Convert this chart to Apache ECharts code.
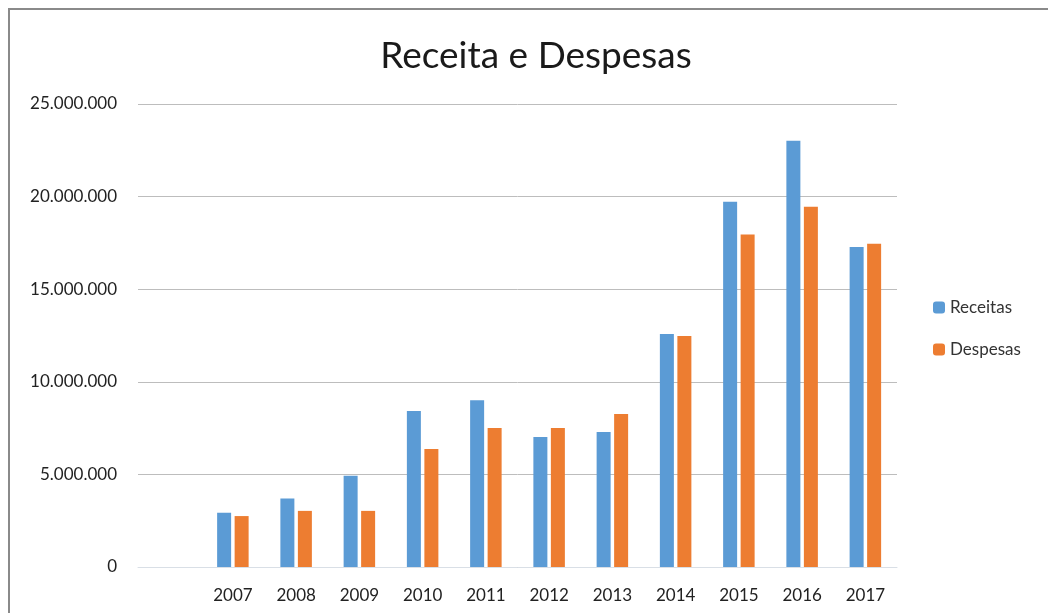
<!DOCTYPE html>
<html>
<head>
<meta charset="utf-8">
<script src="https://cdn.jsdelivr.net/npm/echarts@6/dist/echarts.min.js"></script>
<style>
  html, body { margin: 0; padding: 0; background: #fff; }
  #frame {
    position: absolute; left: 8px; top: 8px; width: 1040px; height: 605px;
    border-top: 2px solid #8a8a8a; border-left: 2px solid #8a8a8a; box-sizing: border-box;
  }
  #chart { position: absolute; left: 0; top: 0; width: 1048px; height: 613px; }
</style>
</head>
<body>
<div id="frame"></div>
<div id="chart"></div>
<script>
// first category is left empty, as in the original sheet
const years = ['', '2007', '2008', '2009', '2010', '2011', '2012', '2013', '2014', '2015', '2016', '2017'];
const receitas = [null, 2930000, 3700000, 4930000, 8420000, 9000000, 7020000, 7290000, 12580000, 19720000, 23020000, 17280000];
const despesas = [null, 2750000, 3030000, 3030000, 6370000, 7500000, 7500000, 8260000, 12470000, 17960000, 19450000, 17460000];

const fmt = v => v === 0 ? '0' : String(v).replace(/\B(?=(\d{3})+(?!\d))/g, '.');

const myChart = echarts.init(document.getElementById('chart'));
myChart.setOption({
  animation: false,
  textStyle: { fontFamily: 'Lato' },
  title: {
    text: 'Receita e Despesas',
    left: 531, top: 33, textAlign: 'center',
    textStyle: { fontFamily: 'Lato', fontSize: 37, fontWeight: 'normal', color: '#1a1a1a' }
  },
  legend: {
    orient: 'vertical',
    left: 928, top: 294,
    itemWidth: 12, itemHeight: 12, itemGap: 25,
    textStyle: { fontSize: 17, color: '#333' },
    data: ['Receitas', 'Despesas']
  },
  grid: { left: 138, right: 151, top: 104, bottom: 46, containLabel: false },
  xAxis: {
    type: 'category',
    data: years,
    axisLine: { lineStyle: { color: '#d9dfe6', width: 1 } },
    axisTick: { show: false },
    axisLabel: { color: '#222', fontSize: 17, margin: 20, interval: 0 }
  },
  yAxis: {
    type: 'value',
    min: 0, max: 25000000, interval: 5000000,
    axisLine: { show: false },
    axisTick: { show: false },
    splitLine: { lineStyle: { color: '#bdbdbd', width: 1 } },
    axisLabel: { color: '#222', fontSize: 17, margin: 21, formatter: fmt }
  },
  series: [
    {
      name: 'Receitas', type: 'bar', data: receitas,
      barWidth: 14, barGap: '25%',
      itemStyle: { color: '#5b9bd5' }
    },
    {
      name: 'Despesas', type: 'bar', data: despesas,
      barWidth: 14, barGap: '25%',
      itemStyle: { color: '#ed7d31' }
    }
  ]
});
</script>
</body>
</html>
